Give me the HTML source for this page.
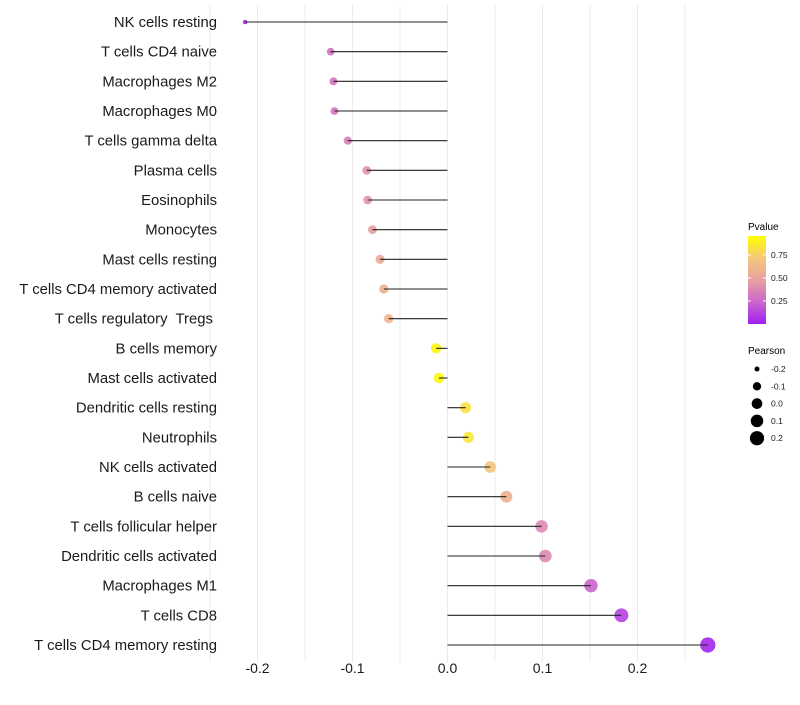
<!DOCTYPE html>
<html><head><meta charset="utf-8"><style>
html,body{margin:0;padding:0;background:#fff;}
svg text{font-family:"Liberation Sans",Arial,sans-serif;white-space:pre;}
</style></head><body>
<svg id="chart" width="800" height="700" xmlns="http://www.w3.org/2000/svg">
<defs><linearGradient id="pg" x1="0" y1="1" x2="0" y2="0">
<stop offset="0" stop-color="#A020F0"/><stop offset="0.25" stop-color="#CC66CC"/>
<stop offset="0.5" stop-color="#E8A0A0"/><stop offset="0.75" stop-color="#F5C878"/>
<stop offset="1" stop-color="#FFFF00"/></linearGradient></defs>
<g id="grid"></g>
<g id="marks"></g>
<g id="labels"></g>
<g id="xticks"></g>
<g>
<text x="748" y="230" font-size="10">Pvalue</text>
<rect x="748" y="236" width="18" height="88" fill="url(#pg)"/>
<g id="cbticks"></g>
</g>
<g>
<text x="748" y="354" font-size="10">Pearson</text>
<g id="sizeleg"></g>
</g>
</svg>
<script>
const categories=["NK cells resting","T cells CD4 naive","Macrophages M2","Macrophages M0","T cells gamma delta","Plasma cells","Eosinophils","Monocytes","Mast cells resting","T cells CD4 memory activated","T cells regulatory  Tregs ","B cells memory","Mast cells activated","Dendritic cells resting","Neutrophils","NK cells activated","B cells naive","T cells follicular helper","Dendritic cells activated","Macrophages M1","T cells CD8","T cells CD4 memory resting"];
const pearson=[-0.213,-0.123,-0.120,-0.119,-0.105,-0.085,-0.084,-0.079,-0.071,-0.067,-0.062,-0.012,-0.009,0.019,0.022,0.045,0.062,0.099,0.103,0.151,0.183,0.274];
const pvalue=[0.02,0.3,0.3,0.32,0.36,0.45,0.46,0.5,0.56,0.6,0.63,0.96,0.98,0.86,0.88,0.72,0.6,0.4,0.4,0.24,0.12,0.02];
const xTicks=[-0.2,-0.1,0.0,0.1,0.2];
const xTickLabels=["-0.2","-0.1","0.0","0.1","0.2"];
const cbTicks=[0.25,0.5,0.75];
const sizeLegend=[-0.2,-0.1,0.0,0.1,0.2];
const NS="http://www.w3.org/2000/svg";
const xs=v=>447.5+v*950;
const ys=i=>22+i*29.667;
const rs=v=>Math.sqrt(Math.max(1,5+110*(v+0.213)));
const cbY=p=>324-p*92;
const stops=[[0,[160,32,240]],[0.25,[204,102,204]],[0.5,[232,160,160]],[0.75,[245,200,120]],[1,[255,255,0]]];
function col(p){for(let i=1;i<stops.length;i++){if(p<=stops[i][0]){const a=stops[i-1],b=stops[i];const t=(p-a[0])/(b[0]-a[0]);const c=a[1].map((x,k)=>Math.round(x+(b[1][k]-x)*t));return `rgb(${c})`;}}return "rgb(255,255,0)";}
function mk(tag,attrs,parent){const e=document.createElementNS(NS,tag);for(const k in attrs)e.setAttribute(k,attrs[k]);document.getElementById(parent).appendChild(e);return e;}
const grid=[-0.25,-0.2,-0.15,-0.1,-0.05,0,0.05,0.1,0.15,0.2,0.25];
grid.forEach(g=>{const l=mk("line",{x1:xs(g),x2:xs(g),y1:5,y2:662,stroke:"#ebebeb","stroke-width":1},"grid");

});
categories.forEach((c,i)=>{
const t=mk("text",{x:217,y:ys(i)+5,"text-anchor":"end","font-size":"14.85",fill:"#1a1a1a"},"labels");t.textContent=c;


const d=mk("circle",{cx:xs(pearson[i]),cy:ys(i),r:rs(pearson[i]),fill:col(pvalue[i]),"fill-opacity":0.9},"marks");


const l=mk("line",{x1:xs(0),x2:xs(pearson[i]),y1:ys(i),y2:ys(i),stroke:"#222","stroke-width":1.1},"marks");


});
xTicks.forEach((v,i)=>{const t=mk("text",{x:xs(v),y:673,"text-anchor":"middle","font-size":"14",fill:"#1a1a1a"},"xticks");t.textContent=xTickLabels[i];

});
cbTicks.forEach(p=>{const l=mk("line",{x1:748,x2:751,y1:cbY(p),y2:cbY(p),stroke:"#fff"},"cbticks");


const l2=mk("line",{x1:763,x2:766,y1:cbY(p),y2:cbY(p),stroke:"#fff"},"cbticks");


const t=mk("text",{x:771,y:cbY(p)+3,"font-size":"8.5",fill:"#1a1a1a"},"cbticks");t.textContent=p.toFixed(2);

});
sizeLegend.forEach((v,i)=>{const y=369+i*17.3;
const c=mk("circle",{cx:757,cy:y,r:rs(v),fill:"#000"},"sizeleg");


const t=mk("text",{x:771,y:y+3,"font-size":"8.5",fill:"#1a1a1a"},"sizeleg");t.textContent=v.toFixed(1);

});
</script>
</body></html>
